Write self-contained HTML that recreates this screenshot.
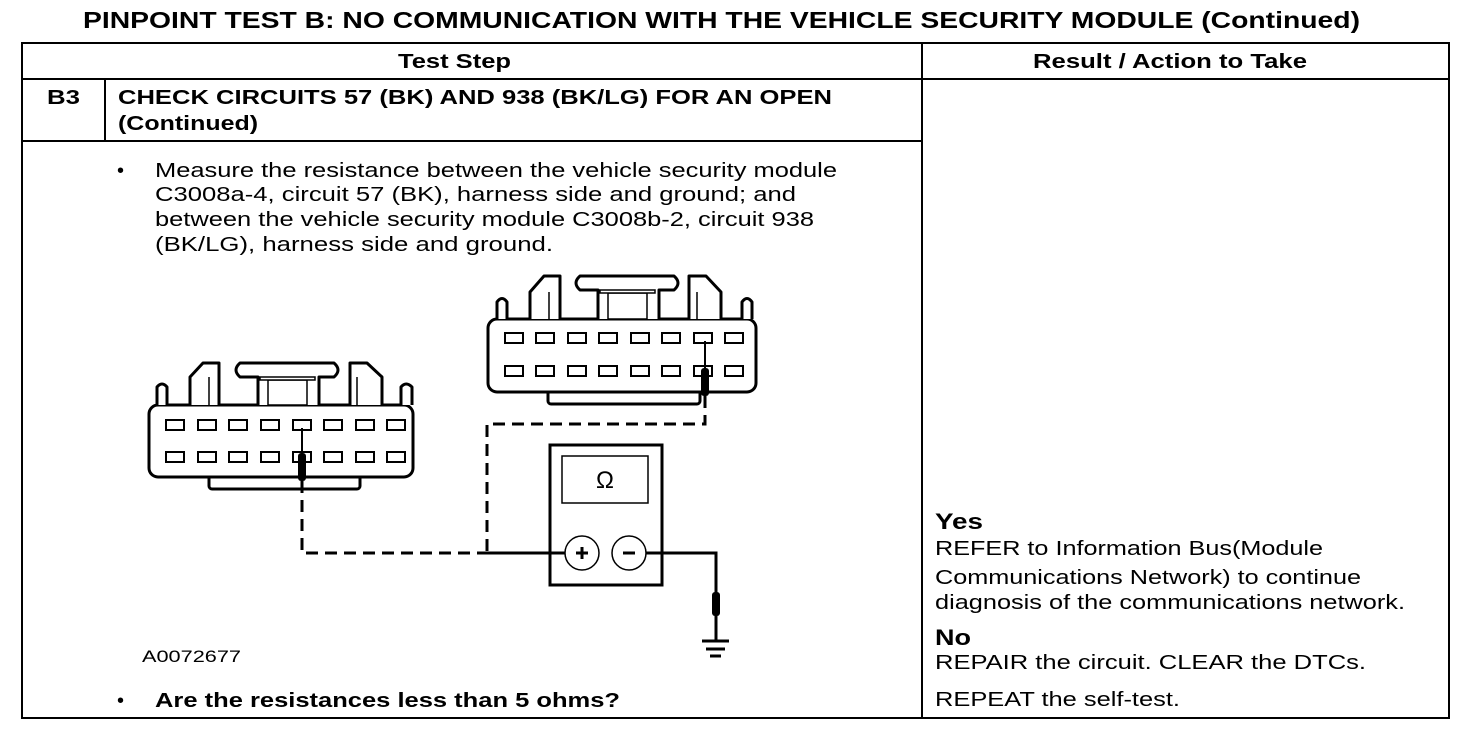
<!DOCTYPE html>
<html><head><meta charset="utf-8"><style>
html,body{margin:0;padding:0;background:#fff;}
svg{display:block;}
text{font-family:"Liberation Sans",Arial,sans-serif;fill:#000;}
.b{font-weight:bold;}
</style></head><body>
<svg width="1472" height="736" viewBox="0 0 1472 736" xmlns="http://www.w3.org/2000/svg">
<text x="83" y="28" class="b" font-size="23" textLength="1277" lengthAdjust="spacingAndGlyphs">PINPOINT TEST  B: NO COMMUNICATION WITH THE VEHICLE SECURITY MODULE (Continued)</text>
<g stroke="#000" stroke-width="2" fill="none">
<rect x="22" y="43" width="1427" height="675"/>
<line x1="22" y1="79" x2="1449" y2="79"/>
<line x1="22" y1="141" x2="922" y2="141"/>
<line x1="922" y1="43" x2="922" y2="718"/>
<line x1="105" y1="79" x2="105" y2="141"/>
</g>
<text x="398" y="68" class="b" font-size="20" textLength="113" lengthAdjust="spacingAndGlyphs">Test Step</text>
<text x="1033" y="68" class="b" font-size="20" textLength="274" lengthAdjust="spacingAndGlyphs">Result / Action to Take</text>
<text x="47" y="104" class="b" font-size="20" textLength="33" lengthAdjust="spacingAndGlyphs">B3</text>
<text x="118" y="104" class="b" font-size="20" textLength="714" lengthAdjust="spacingAndGlyphs">CHECK CIRCUITS 57 (BK) AND 938 (BK/LG) FOR AN OPEN</text>
<text x="118" y="130" class="b" font-size="20" textLength="140" lengthAdjust="spacingAndGlyphs">(Continued)</text>
<text x="117" y="177" font-size="20">•</text>
<text x="155" y="177" font-size="20" textLength="682" lengthAdjust="spacingAndGlyphs">Measure the resistance between the vehicle security module</text>
<text x="155" y="201" font-size="20" textLength="641" lengthAdjust="spacingAndGlyphs">C3008a-4, circuit 57 (BK), harness side and ground; and</text>
<text x="155" y="226" font-size="20" textLength="659" lengthAdjust="spacingAndGlyphs">between the vehicle security module C3008b-2, circuit 938</text>
<text x="155" y="251" font-size="20" textLength="398" lengthAdjust="spacingAndGlyphs">(BK/LG),  harness side and ground.</text>
<text x="142" y="662" font-size="17" textLength="99" lengthAdjust="spacingAndGlyphs">A0072677</text>
<text x="117" y="707" font-size="20">•</text>
<text x="155" y="707" class="b" font-size="20" textLength="465" lengthAdjust="spacingAndGlyphs">Are the resistances less than 5 ohms?</text>
<text x="935" y="529" class="b" font-size="22" textLength="48" lengthAdjust="spacingAndGlyphs">Yes</text>
<text x="935" y="555" font-size="20" textLength="388" lengthAdjust="spacingAndGlyphs">REFER to Information Bus(Module</text>
<text x="935" y="584" font-size="20" textLength="426" lengthAdjust="spacingAndGlyphs">Communications Network) to continue</text>
<text x="935" y="609" font-size="20" textLength="470" lengthAdjust="spacingAndGlyphs">diagnosis of the communications network.</text>
<text x="935" y="645" class="b" font-size="22" textLength="36" lengthAdjust="spacingAndGlyphs">No</text>
<text x="935" y="669" font-size="20" textLength="431" lengthAdjust="spacingAndGlyphs">REPAIR the circuit. CLEAR the DTCs.</text>
<text x="935" y="706" font-size="20" textLength="245" lengthAdjust="spacingAndGlyphs">REPEAT the self-test.</text>

<!-- Left connector -->
<g stroke="#000" stroke-width="3" fill="#fff" stroke-linejoin="round">
<rect x="209" y="470" width="151" height="19" rx="3"/>
<rect x="149" y="405" width="264" height="72" rx="9"/>
<path d="M157 405 V387 Q162 381 167 387 V405"/>
<path d="M401 405 V387 Q406 381 412 387 V405"/>
<path d="M190 405 V377 L203 363 H219 V405"/>
<path d="M350 405 V363 H367 L382 377 V405"/>
<path d="M258 405 V377 H240 Q232 370 240 363 H334 Q342 370 334 377 H319 V405"/>
</g>
<g stroke="#000" stroke-width="1.5" fill="#fff">
<line x1="209" y1="377" x2="209" y2="405"/><line x1="357" y1="377" x2="357" y2="405"/>
<rect x="268" y="380" width="39" height="25"/><rect x="260" y="377" width="55" height="3"/>
</g>
<g stroke="#000" stroke-width="2" fill="#fff">
<rect x="166" y="420" width="18" height="10"/><rect x="198" y="420" width="18" height="10"/><rect x="229" y="420" width="18" height="10"/><rect x="261" y="420" width="18" height="10"/><rect x="293" y="420" width="18" height="10"/><rect x="324" y="420" width="18" height="10"/><rect x="356" y="420" width="18" height="10"/><rect x="387" y="420" width="18" height="10"/>
<rect x="166" y="452" width="18" height="10"/><rect x="198" y="452" width="18" height="10"/><rect x="229" y="452" width="18" height="10"/><rect x="261" y="452" width="18" height="10"/><rect x="293" y="452" width="18" height="10"/><rect x="324" y="452" width="18" height="10"/><rect x="356" y="452" width="18" height="10"/><rect x="387" y="452" width="18" height="10"/>
</g>
<line x1="302" y1="428" x2="302" y2="455" stroke="#000" stroke-width="2"/>
<rect x="298" y="453" width="8" height="28" rx="3" fill="#000"/>

<!-- Right connector -->
<g stroke="#000" stroke-width="3" fill="#fff" stroke-linejoin="round">
<rect x="548" y="385" width="152" height="19" rx="3"/>
<rect x="488" y="319" width="268" height="73" rx="9"/>
<path d="M497 319 V302 Q502 295 507 302 V319"/>
<path d="M742 319 V302 Q747 295 752 302 V319"/>
<path d="M530 319 V292 L544 276 H560 V319"/>
<path d="M689 319 V276 H706 L721 292 V319"/>
<path d="M598 319 V290 H580 Q572 283 580 276 H674 Q682 283 674 290 H659 V319"/>
</g>
<g stroke="#000" stroke-width="1.5" fill="#fff">
<line x1="549" y1="292" x2="549" y2="319"/><line x1="697" y1="292" x2="697" y2="319"/>
<rect x="608" y="293" width="39" height="26"/><rect x="600" y="290" width="55" height="3"/>
</g>
<g stroke="#000" stroke-width="2" fill="#fff">
<rect x="505" y="333" width="18" height="10"/><rect x="536" y="333" width="18" height="10"/><rect x="568" y="333" width="18" height="10"/><rect x="599" y="333" width="18" height="10"/><rect x="631" y="333" width="18" height="10"/><rect x="662" y="333" width="18" height="10"/><rect x="694" y="333" width="18" height="10"/><rect x="725" y="333" width="18" height="10"/>
<rect x="505" y="366" width="18" height="10"/><rect x="536" y="366" width="18" height="10"/><rect x="568" y="366" width="18" height="10"/><rect x="599" y="366" width="18" height="10"/><rect x="631" y="366" width="18" height="10"/><rect x="662" y="366" width="18" height="10"/><rect x="694" y="366" width="18" height="10"/><rect x="725" y="366" width="18" height="10"/>
</g>
<line x1="705" y1="341" x2="705" y2="370" stroke="#000" stroke-width="2"/>
<rect x="701" y="368" width="8" height="28" rx="3" fill="#000"/>

<!-- wires -->
<g stroke="#000" stroke-width="3" fill="none">
<path d="M302 481 V553 H487" stroke-dasharray="12,7"/>
<path d="M705 396 V424 H487 V553" stroke-dasharray="12,7"/>
<path d="M487 553 H565"/>
<path d="M646 553 H716 V641"/>
<rect x="550" y="445" width="112" height="140"/>
</g>
<rect x="562" y="456" width="86" height="47" fill="none" stroke="#000" stroke-width="1.5"/>
<text x="605" y="488" font-size="24" text-anchor="middle" font-family="Liberation Serif,serif">Ω</text>
<circle cx="582" cy="553" r="17" fill="#fff" stroke="#000" stroke-width="1.5"/>
<circle cx="629" cy="553" r="17" fill="#fff" stroke="#000" stroke-width="1.5"/>
<path d="M582 547 V559 M576 553 H588 M623 553 H635" stroke="#000" stroke-width="3"/>
<rect x="712" y="592" width="8" height="24" rx="3" fill="#000"/>
<g stroke="#000" stroke-width="3">
<line x1="702" y1="641" x2="729" y2="641"/><line x1="706" y1="649" x2="725" y2="649"/><line x1="710" y1="656" x2="721" y2="656"/>
</g>
</svg>
</body></html>
